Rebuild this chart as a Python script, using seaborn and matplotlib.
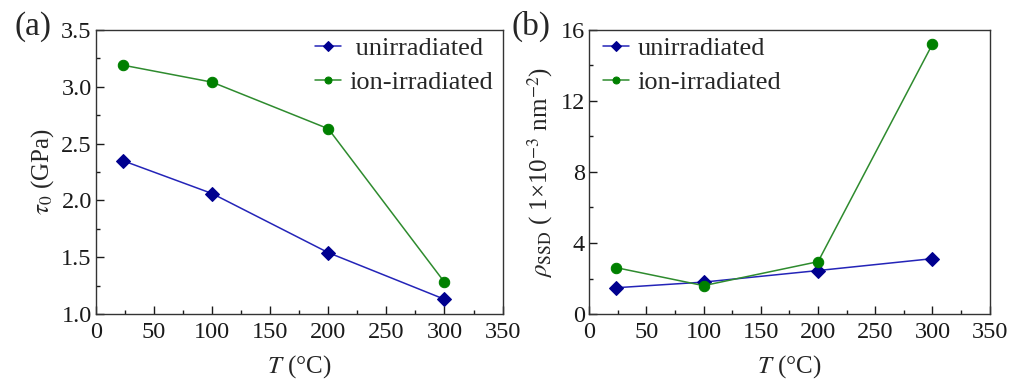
import matplotlib
matplotlib.use('Agg')
import matplotlib.pyplot as plt
import seaborn as sns
import pandas as pd
from matplotlib.ticker import MultipleLocator

# data
temps = [23, 100, 200, 300]
tau_unirr = [2.35, 2.06, 1.54, 1.13]
tau_ion = [3.19, 3.04, 2.63, 1.28]
rho_unirr = [1.48, 1.80, 2.45, 3.12]
rho_ion = [2.62, 1.60, 2.95, 15.2]
labels = ['unirradiated', 'ion-irradiated']

sns.set_theme(style='ticks')
plt.rcParams['font.family'] = ['Liberation Serif', 'DejaVu Serif']
plt.rcParams['mathtext.fontset'] = 'stix'

palette = {'unirradiated': '#2424b8', 'ion-irradiated': '#2e8b2e'}
markers = {'unirradiated': 'D', 'ion-irradiated': 'o'}
msizes = {'unirradiated': 7, 'ion-irradiated': 7.5}
mcolors = {'unirradiated': '#00008f', 'ion-irradiated': '#008000'}

TICK = 17.5
LAB = 18
LEG = 19


def make_df(unirr, ion):
    rows = []
    for t, v in zip(temps, unirr):
        rows.append({'T': t, 'val': v, 'sample': labels[0]})
    for t, v in zip(temps, ion):
        rows.append({'T': t, 'val': v, 'sample': labels[1]})
    return pd.DataFrame(rows)


def style_axis(ax, ylim, ymajor, yminor):
    ax.set_xlim(0, 350)
    ax.set_ylim(*ylim)
    ax.xaxis.set_major_locator(MultipleLocator(50))
    ax.xaxis.set_minor_locator(MultipleLocator(25))
    ax.yaxis.set_major_locator(MultipleLocator(ymajor))
    ax.yaxis.set_minor_locator(MultipleLocator(yminor))
    ax.tick_params(which='both', direction='in', top=False, right=False,
                   labelsize=TICK, colors='#1a1a1a')
    ax.tick_params(axis='y', pad=3)
    ax.tick_params(axis='x', pad=6)
    ax.tick_params(which='major', length=6, width=1)
    ax.tick_params(which='minor', length=3, width=1)
    for s in ax.spines.values():
        s.set_linewidth(1.0)
        s.set_color('#333333')
    ax.set_xlabel('$T$ (°C)', fontsize=LAB, labelpad=7)


def draw(ax, df, names):
    for name, shown in zip(labels, names):
        sub = df[df['sample'] == name]
        sns.lineplot(data=sub, x='T', y='val', ax=ax, color=palette[name],
                     marker=markers[name], markersize=msizes[name],
                     markerfacecolor=mcolors[name], markeredgecolor=mcolors[name],
                     linewidth=1.1, label=shown)


def add_legend(ax, loc, anchor):
    leg = ax.legend(loc=loc, bbox_to_anchor=anchor, frameon=False, fontsize=LEG,
                    handlelength=1.0, handletextpad=0.3, borderaxespad=0.05,
                    labelspacing=0.4, borderpad=0.2)
    for h in leg.legend_handles:
        h.set_markersize(5)


fig = plt.figure(figsize=(10.32, 3.83), dpi=100)
ax1 = fig.add_axes([0.093, 0.180, 0.394, 0.742])
ax2 = fig.add_axes([0.571, 0.180, 0.388, 0.742])

draw(ax1, make_df(tau_unirr, tau_ion), [' unirradiated', 'ion-irradiated'])
style_axis(ax1, (1.0, 3.5), 0.5, 0.25)
ax1.set_ylabel(r'$\tau_0$ (GPa)', fontsize=LAB, labelpad=4)
add_legend(ax1, 'upper right', (0.992, 1.0))

draw(ax2, make_df(rho_unirr, rho_ion), labels)
style_axis(ax2, (0, 16), 4, 2)
ax2.set_ylabel(r'$\rho_{\mathrm{SSD}}$ ( 1×10$^{-3}$ nm$^{-2}$)', fontsize=LAB, labelpad=4)
add_legend(ax2, 'upper left', (0.018, 1.0))

fig.text(0.014, 0.909, '(a)', fontsize=24, va='baseline')
fig.text(0.496, 0.909, '(b)', fontsize=24, va='baseline')

fig.savefig('out.png', dpi=100)
